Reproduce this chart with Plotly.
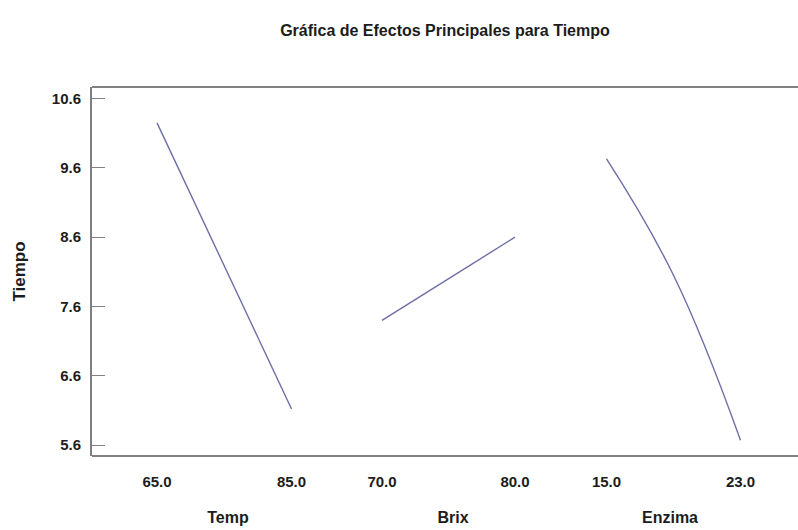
import plotly.graph_objects as go

# Main-effects data: factor levels and mean response (Tiempo)
temp_levels = [65.0, 85.0]
temp_means = [10.25, 6.12]

brix_levels = [70.0, 80.0]
brix_means = [7.40, 8.60]

enzima_levels = [15.0, 19.0, 23.0]
enzima_means = [9.73, 8.05, 5.67]

y_ticks = [5.6, 6.6, 7.6, 8.6, 9.6, 10.6]

LINE_COLOR = "#6e6ea6"
FRAME = "#808080"
TEXT = "#1c1c1c"
FONT = "Liberation Sans, Arial, sans-serif"

fig = go.Figure()

fig.add_trace(go.Scatter(x=temp_levels, y=temp_means, mode="lines",
                         line=dict(color=LINE_COLOR, width=1.4),
                         xaxis="x", yaxis="y", showlegend=False))
fig.add_trace(go.Scatter(x=brix_levels, y=brix_means, mode="lines",
                         line=dict(color=LINE_COLOR, width=1.4),
                         xaxis="x2", yaxis="y", showlegend=False))
fig.add_trace(go.Scatter(x=enzima_levels, y=enzima_means, mode="lines",
                         line=dict(color=LINE_COLOR, width=1.4,
                                   shape="spline", smoothing=1.2),
                         xaxis="x3", yaxis="y", showlegend=False))

tick_font = dict(family=FONT, size=15, color=TEXT, weight="bold")
title_font = dict(family=FONT, size=16, color=TEXT, weight="bold")

def panel_axis(domain, rng, vals, title):
    return dict(
        domain=domain, range=rng, anchor="y",
        tickmode="array", tickvals=vals, ticktext=[f"{v:.1f}" for v in vals],
        ticks="", showline=False, showgrid=False, zeroline=False,
        tickfont=tick_font, ticklabelstandoff=15,
        title=dict(text=title, font=title_font, standoff=22),
    )

d1, d2 = 0.3853, 0.6374

fig.update_layout(
    width=798, height=530,
    margin=dict(l=92, r=0, t=87, b=74),
    paper_bgcolor="white", plot_bgcolor="white",
    title=dict(text="Gráfica de Efectos Principales para Tiempo",
               x=0.5576, xanchor="center", y=1 - 30 / 530, yanchor="middle",
               font=dict(family=FONT, size=16, color=TEXT, weight="bold")),
    xaxis=panel_axis([0, d1], [55.33, 95.78], temp_levels, "Temp"),
    xaxis2=panel_axis([d1, d2], [68.647, 82.03], brix_levels, "Brix"),
    xaxis3=panel_axis([d2, 1], [11.149, 26.433],
                      [enzima_levels[0], enzima_levels[-1]], "Enzima"),
    yaxis=dict(
        range=[5.442, 10.767], tickmode="array", tickvals=y_ticks,
        ticktext=[f"{v:.1f}" for v in y_ticks],
        ticks="inside", ticklen=13, tickwidth=1, tickcolor=FRAME,
        showline=True, linecolor=FRAME, linewidth=2,
        showgrid=False, zeroline=False,
        tickfont=tick_font, ticklabelstandoff=6,
        title=dict(text="Tiempo", font=dict(family=FONT, size=17, color=TEXT,
                                            weight="bold"), standoff=22),
    ),
    yaxis2=dict(
        range=[5.442, 10.767], overlaying="y", side="right", anchor="x3",
        tickmode="array", tickvals=y_ticks, showticklabels=False,
        ticks="inside", ticklen=5, tickwidth=1, tickcolor=FRAME,
        showline=False, showgrid=False, zeroline=False,
    ),
    shapes=[
        dict(type="line", xref="paper", yref="paper", x0=0, x1=1, y0=1, y1=1,
             line=dict(color=FRAME, width=2)),
        dict(type="line", xref="paper", yref="paper", x0=0, x1=1, y0=0, y1=0,
             line=dict(color=FRAME, width=2)),
    ],
)

fig.write_html("out.html")
